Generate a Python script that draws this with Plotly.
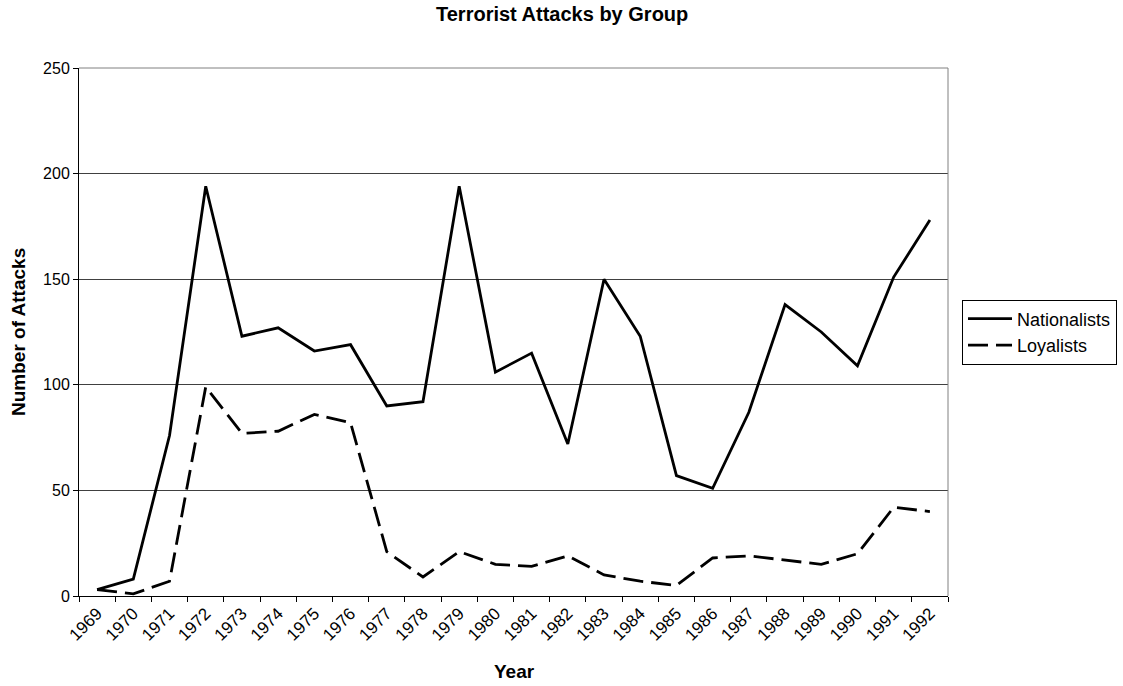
import plotly.graph_objects as go

years = [str(y) for y in range(1969, 1993)]
nationalists = [3, 8, 76, 194, 123, 127, 116, 119, 90, 92, 194, 106, 115, 72, 150, 123, 57, 51, 87, 138, 125, 109, 151, 178]
loyalists = [3, 1, 7, 99, 77, 78, 86, 82, 21, 9, 21, 15, 14, 19, 10, 7, 5, 18, 19, 17, 15, 20, 42, 40]

FONT = "Liberation Sans, Arial, sans-serif"
L, R, T, B = 79, 948, 68, 596
W, H = 1123, 686
PW, PH = R - L, B - T

fig = go.Figure()
fig.add_trace(go.Scatter(x=years, y=nationalists, mode="lines", name="Nationalists",
                         line=dict(color="black", width=2.8)))
fig.add_trace(go.Scatter(x=years, y=loyalists, mode="lines", name="Loyalists",
                         line=dict(color="black", width=2.8, dash="20px,8px")))

fig.update_layout(
    width=W, height=H,
    margin=dict(l=L, r=W - R, t=T, b=H - B, autoexpand=False),
    paper_bgcolor="white", plot_bgcolor="white",
    font=dict(family=FONT, size=16, color="black"),
    showlegend=True,
    legend=dict(x=(962 - L) / PW, y=(B - 332) / PH, xanchor="left", yanchor="middle",
                bordercolor="black", borderwidth=1, bgcolor="white",
                font=dict(size=18, family=FONT), itemwidth=44,
                tracegroupgap=0),
    xaxis=dict(type="category", range=[-0.5, 23.5], tickangle=-45,
               showline=True, linecolor="black", linewidth=1, automargin=False,
               ticks="outside", tickson="boundaries", ticklen=5, tickcolor="black",
               showgrid=False, mirror=False, tickfont=dict(size=17)),
    yaxis=dict(range=[0, 250], dtick=50, showline=True, linecolor="black", linewidth=1,
               ticks="outside", ticklen=5, tickcolor="black", automargin=False,
               showgrid=True, gridcolor="#404040", gridwidth=1, zeroline=False,
               tickfont=dict(size=16)),
    annotations=[
        dict(text="<b>Terrorist Attacks by Group</b>", x=(562 - L) / PW, xref="paper",
             y=(B - 14) / PH, yref="paper", showarrow=False,
             font=dict(size=20, family=FONT), xanchor="center", yanchor="middle"),
        dict(text="<b>Number of Attacks</b>", x=(18 - L) / PW, xref="paper", y=(B - 332) / PH,
             yref="paper", showarrow=False, textangle=-90, font=dict(size=19, family=FONT),
             xanchor="center", yanchor="middle"),
        dict(text="<b>Year</b>", x=(514 - L) / PW, xref="paper", y=(B - 671) / PH, yref="paper",
             showarrow=False, font=dict(size=19, family=FONT),
             xanchor="center", yanchor="middle"),
    ],
)

# gray border on top and right of plot area
fig.add_shape(type="line", xref="paper", yref="paper", x0=0, x1=1, y0=1, y1=1,
              line=dict(color="#808080", width=1))
fig.add_shape(type="line", xref="paper", yref="paper", x0=1, x1=1, y0=0, y1=1,
              line=dict(color="#808080", width=1))

fig.write_html("out.html")
